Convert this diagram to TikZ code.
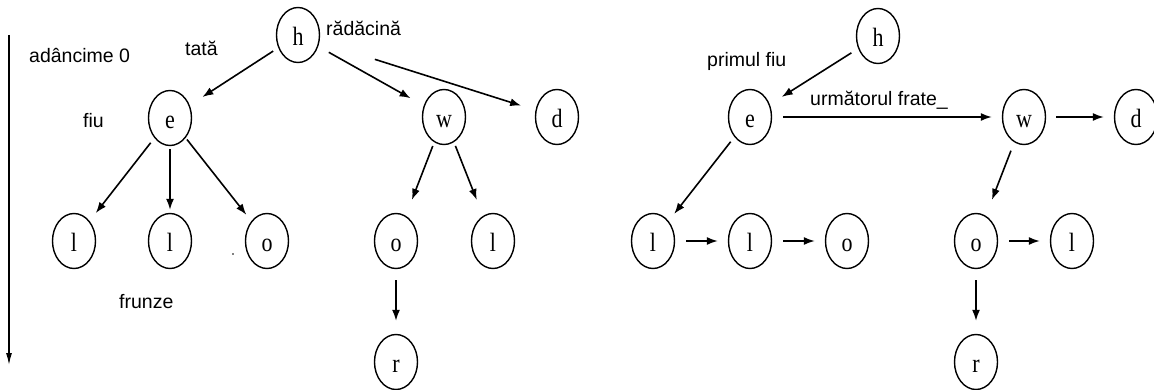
\documentclass[tikz,border=0pt]{standalone}
\usepackage{fontspec}
\usepackage{graphicx}
\setmainfont{Liberation Serif}
\setsansfont{Liberation Sans}
\usetikzlibrary{arrows.meta,shapes.geometric}

% tall serif letter inside a tree vertex
\newcommand{\vtxletter}[1]{\scalebox{1}[1.2]{#1}}

\begin{document}
\begin{tikzpicture}[x=1pt,y=-1pt,
  vertex/.style={draw, ellipse, line width=1.4pt, minimum width=43pt,
    minimum height=55pt, inner sep=0pt, text height=21pt, text depth=0pt,
    font=\fontsize{22}{22}\selectfont},
  lbl/.style={font=\sffamily\fontsize{19.5}{20}\selectfont, inner sep=0pt,
    anchor=base west},
  conn/.style={line width=1.6pt, -{Latex[length=11pt,width=8pt]}},
  gap/.style 2 args={shorten <=#1pt, shorten >=#2pt}
]
\path[use as bounding box] (0,0) rectangle (1154,390);

% ---------- ordinary tree ----------
\node[vertex] (h)  at (298,35)  {\vtxletter{h}};
\node[vertex] (e)  at (170,118) {\vtxletter{e}};
\node[vertex] (w)  at (444,117) {\vtxletter{w}};
\node[vertex] (d)  at (557,117) {\vtxletter{d}};
\node[vertex] (l1) at (74,241)  {\vtxletter{l}};
\node[vertex] (l2) at (170,241) {\vtxletter{l}};
\node[vertex] (o1) at (267,241) {\vtxletter{o}};
\node[vertex] (o2) at (396,241) {\vtxletter{o}};
\node[vertex] (l3) at (493,241) {\vtxletter{l}};
\node[vertex] (r)  at (396,362) {\vtxletter{r}};

\draw[conn, gap={6}{15}]  (h) -- (e);
\draw[conn, gap={12}{15}] (h) -- (w);
\draw[conn, gap={58}{15}] (h) -- (d);
\draw[conn, gap={6}{10}]  (e) -- (l1);
\draw[conn, gap={3}{3}]   (e) -- (l2);
\draw[conn, gap={2}{8}]   (e) -- (o1);
\draw[conn, gap={4}{17}]  (w) -- (o2);
\draw[conn, gap={4}{17}]  (w) -- (l3);
\draw[conn, gap={11}{13}] (o2) -- (r);

% stray speck beside the last leaf
\fill (233,254) circle (0.8);

% depth axis
\coordinate (dtop) at (9,35);
\coordinate (dbot) at (9,365);
\draw[line width=1.4pt, -{Latex[length=12pt,width=6pt]}] (dtop) -- (dbot);

\node[lbl] (depthlbl)  at (29,63)   {adâncime 0};
\node[lbl] (parentlbl) at (185,56)  {tată};
\node[lbl] (rootlbl)   at (326,36)  {rădăcină};
\node[lbl] (childlbl)  at (83,128)  {fiu};
\node[lbl] (leaveslbl) at (119,308) {frunze};

% ---------- first-child / next-sibling form ----------
\node[vertex] (H)  at (878,36)   {\vtxletter{h}};
\node[vertex] (E)  at (750,117)  {\vtxletter{e}};
\node[vertex] (W)  at (1024,117) {\vtxletter{w}};
\node[vertex] (D)  at (1136,117) {\vtxletter{d}};
\node[vertex] (L1) at (653,241)  {\vtxletter{l}};
\node[vertex] (L2) at (750,241)  {\vtxletter{l}};
\node[vertex] (O1) at (847,241)  {\vtxletter{o}};
\node[vertex] (O2) at (976,241)  {\vtxletter{o}};
\node[vertex] (L3) at (1072,241) {\vtxletter{l}};
\node[vertex] (R)  at (976,362)  {\vtxletter{r}};

\draw[conn, gap={8}{14}]  (H) -- (E);
\draw[conn, gap={11}{10}] (E) -- (W);
\draw[conn, gap={10}{10}] (W) -- (D);
\draw[conn, gap={6}{9}]   (E) -- (L1);
\draw[conn, gap={9}{17}]  (W) -- (O2);
\draw[conn, gap={11}{10}] (L1) -- (L2);
\draw[conn, gap={11}{10}] (L2) -- (O1);
\draw[conn, gap={11}{10}] (O2) -- (L3);
\draw[conn, gap={11}{13}] (O2) -- (R);

\node[lbl] (firstlbl) at (707,67)  {primul fiu};
\node[lbl] (nextlbl)  at (810,106) {următorul frate\_};
\end{tikzpicture}
\end{document}
